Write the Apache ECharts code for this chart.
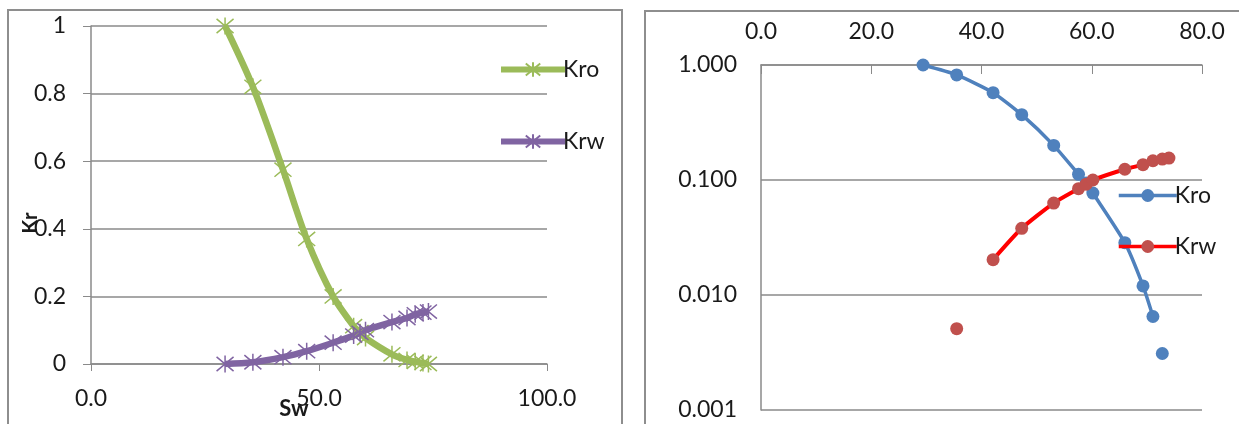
<!DOCTYPE html>
<html>
<head>
<meta charset="utf-8">
<script src="https://cdn.jsdelivr.net/npm/echarts@6/dist/echarts.min.js"></script>
<style>
    html, body { margin: 0; padding: 0; background: #fff; overflow: hidden; }
    body { width: 1239px; height: 424px; position: relative; }
    .panel { position: absolute; box-sizing: border-box; border: 2px solid #8e8e8e; background: #fff; }
    #left { left: 7px; top: 9px; width: 616px; height: 440px; }
    #right { left: 644px; top: 10px; width: 620px; height: 440px; }
</style>
</head>
<body>
<div id="left" class="panel"></div>
<div id="right" class="panel"></div>
<script>
// water saturation (%) and relative permeabilities
const sw  = [29.4, 35.5, 42.1, 47.3, 53.1, 57.6, 59.0, 60.2, 66.0, 69.3, 71.1, 72.8, 74.0];
const kro = [1.0, 0.82, 0.575, 0.37, 0.2, 0.112, 0.094, 0.077, 0.0285, 0.012, 0.0065, 0.0031, 0];
const krw = [0, 0.0051, 0.0203, 0.038, 0.063, 0.084, 0.092, 0.1, 0.124, 0.136, 0.147, 0.152, 0.155];

// where the semi-log plot line is broken (index of the point after the gap)
const kroLogBreaks = [11];
const krwLogBreaks = [2];

const FONT = 'Lato';
const GRID = '#8a8a8a';
const TEXT = '#1a1a1a';

// Excel style star marker
const STAR = 'path://M0,0L20,20M20,0L0,20M10,-2L10,22';

const pairs = (ys) => sw.map((x, i) => [x, ys[i]]);

// log axis cannot show zeros, and the original chart has gaps
function logPairs(ys, breaks) {
    const out = [];
    sw.forEach((x, i) => {
        if (breaks.includes(i)) out.push([x, '-']);
        out.push([x, ys[i] > 0 ? ys[i] : '-']);
    });
    return out;
}

function legendItem(name, left, top, width, height, lineWidth) {
    return {
        data: [name], left, top, orient: 'vertical',
        itemWidth: width, itemHeight: height,
        lineStyle: { width: lineWidth },
        textStyle: { fontFamily: FONT, fontSize: 23, color: TEXT, padding: [0, 0, 0, -7] },
    };
}

const leftChart = echarts.init(document.getElementById('left'));
const rightChart = echarts.init(document.getElementById('right'));

leftChart.setOption({
    animation: false,
    textStyle: { fontFamily: FONT },
    grid: { left: 82, top: 15, width: 456, height: 338, outerBoundsMode: 'none' },
    legend: [
        legendItem('Kro', 484, 42, 64, 18, 6),
        legendItem('Krw', 484, 114, 64, 18, 6),
    ],
    xAxis: {
        type: 'value', min: 0, max: 100, interval: 50,
        name: 'Sw', nameLocation: 'middle', nameGap: 34, nameMoveOverlap: false,
        nameTextStyle: { fontFamily: FONT, fontSize: 22, fontWeight: 'bold', color: TEXT, padding: [0, 50, 0, 0] },
        axisLine: { lineStyle: { color: GRID, width: 1.5 } },
        axisTick: { show: true, length: 7, lineStyle: { color: GRID } },
        axisLabel: { margin: 23, fontSize: 23, color: TEXT, formatter: v => v.toFixed(1) },
        splitLine: { show: false },
    },
    yAxis: {
        type: 'value', min: 0, max: 1, interval: 0.2,
        name: 'Kr', nameLocation: 'middle', nameGap: 50, nameRotate: 90, nameMoveOverlap: false,
        nameTextStyle: { fontFamily: FONT, fontSize: 20, fontWeight: 'bold', color: TEXT, padding: [0, 56, 0, 0] },
        axisLine: { show: true, lineStyle: { color: GRID, width: 1.5 } },
        axisTick: { show: true, length: 8, lineStyle: { color: GRID } },
        axisLabel: { margin: 25, fontSize: 23, color: TEXT },
        splitLine: { lineStyle: { color: GRID, width: 1.5 } },
    },
    series: [
        {
            name: 'Kro', type: 'line', data: pairs(kro), smooth: 0.3,
            symbol: STAR, symbolSize: 17,
            lineStyle: { color: '#9BBB59', width: 6.5 },
            itemStyle: { color: '#9BBB59', borderColor: '#9BBB59', borderWidth: 1.5 },
        },
        {
            name: 'Krw', type: 'line', data: pairs(krw), smooth: 0.3,
            symbol: STAR, symbolSize: 17,
            lineStyle: { color: '#8064A2', width: 6.5 },
            itemStyle: { color: '#8064A2', borderColor: '#8064A2', borderWidth: 1.5 },
        },
    ],
});

rightChart.setOption({
    animation: false,
    textStyle: { fontFamily: FONT },
    grid: { left: 115, top: 53, width: 441, height: 345, outerBoundsMode: 'none' },
    legend: [
        legendItem('Kro', 466, 167, 58, 16, 3.5),
        legendItem('Krw', 466, 218, 58, 16, 3.5),
    ],
    xAxis: {
        type: 'value', position: 'top', min: 0, max: 80, interval: 20,
        axisLine: { lineStyle: { color: GRID, width: 1.5 } },
        axisTick: { show: true, inside: true, length: 9, lineStyle: { color: GRID } },
        axisLabel: { margin: 22, fontSize: 23, color: TEXT, formatter: v => v.toFixed(1) },
        splitLine: { show: false },
    },
    yAxis: {
        type: 'log', logBase: 10, min: 0.001, max: 1,
        axisLine: { show: true, lineStyle: { color: GRID, width: 1.5 } },
        axisTick: { show: false },
        axisLabel: { margin: 24, fontSize: 23, color: TEXT, formatter: v => Number(v).toFixed(3) },
        splitLine: { lineStyle: { color: GRID, width: 1.5 } },
    },
    series: [
        {
            name: 'Kro', type: 'line', data: logPairs(kro, kroLogBreaks), smooth: 0.2,
            symbol: 'circle', symbolSize: 13, connectNulls: false,
            lineStyle: { color: '#4F81BD', width: 3.5 },
            itemStyle: { color: '#4F81BD' },
        },
        {
            name: 'Krw', type: 'line', data: logPairs(krw, krwLogBreaks), smooth: 0.2,
            symbol: 'circle', symbolSize: 13, connectNulls: false,
            lineStyle: { color: '#FF0000', width: 4 },
            itemStyle: { color: '#C0504D' },
        },
    ],
});
</script>
</body>
</html>
